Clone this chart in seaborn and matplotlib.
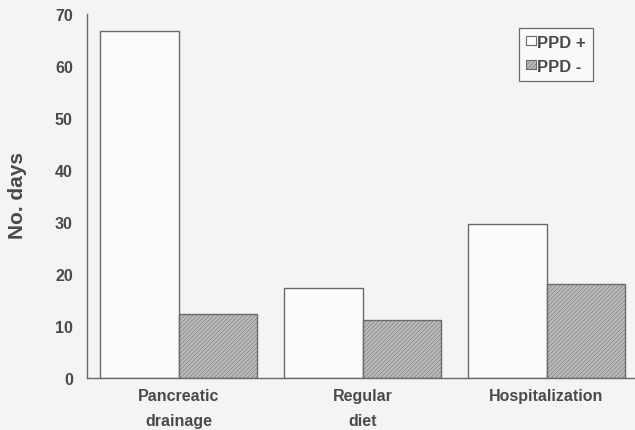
import matplotlib
matplotlib.use("Agg")
import matplotlib.pyplot as plt
from matplotlib.patches import Patch
import seaborn as sns
import pandas as pd

# Median number of days by outcome and postoperative pancreatic drainage group
categories = ["Pancreatic\ndrainage", "Regular\ndiet", "Hospitalization"]
groups = ["PPD +", "PPD -"]
ppd_pos = [66.7, 17.3, 29.6]
ppd_neg = [12.3, 11.2, 18.1]
y_ticks = [0, 10, 20, 30, 40, 50, 60, 70]

df = pd.DataFrame({
    "category": categories * 2,
    "group": [groups[0]] * 3 + [groups[1]] * 3,
    "days": ppd_pos + ppd_neg,
})

sns.set_style("white")
plt.rcParams["font.family"] = ["Liberation Sans", "DejaVu Sans"]
plt.rcParams["hatch.linewidth"] = 0.35

text_color = "#4a4a4a"
line_color = "#6a6a6a"
bg = "#f4f4f2"
fills = {"PPD +": "#fbfbfb", "PPD -": "#bbbbbb"}
hatch = "////////"

fig = plt.figure(figsize=(6.35, 4.31), dpi=100, facecolor=bg)
ax = fig.add_axes([0.1365, 0.1206, 0.869, 0.8445])
ax.set_facecolor(bg)

sns.barplot(data=df, x="category", y="days", hue="group", order=categories,
            hue_order=groups, palette=fills, width=0.85, gap=0,
            edgecolor=line_color, linewidth=1.0, saturation=1,
            errorbar=None, legend=False, ax=ax)

for bar in ax.containers[1]:
    bar.set_hatch(hatch)

ax.set_xlim(-0.5, 2.5)
ax.set_ylim(0, 70)
ax.set_yticks(y_ticks)
ax.set_yticklabels([str(t) for t in y_ticks])

for side in ("top", "right"):
    ax.spines[side].set_visible(False)
for side in ("left", "bottom"):
    ax.spines[side].set_color(line_color)
    ax.spines[side].set_linewidth(1.0)

ax.tick_params(axis="y", length=0, pad=10, labelsize=11.5, labelcolor=text_color)
ax.tick_params(axis="x", length=0, pad=7, labelsize=11.5, labelcolor=text_color)
for lbl in ax.get_yticklabels() + ax.get_xticklabels():
    lbl.set_fontweight("bold")
for lbl in ax.get_xticklabels():
    lbl.set_linespacing(1.85)

ax.set_xlabel("")
ax.set_ylabel("No. days", fontsize=15, fontweight="bold", color=text_color)
ax.yaxis.set_label_coords(-0.108, 0.503)

handles = [Patch(facecolor=fills[g], edgecolor=line_color, linewidth=0.8,
                 hatch=(hatch if g == "PPD -" else None)) for g in groups]
leg = ax.legend(handles=handles, labels=groups, loc="upper left",
                bbox_to_anchor=(519 / 635, 1 - 29 / 431),
                bbox_transform=fig.transFigure, borderaxespad=0,
                prop={"weight": "bold", "size": 12},
                handlelength=0.6, handleheight=0.45, handletextpad=0.1,
                labelspacing=0.55, borderpad=0.4, fancybox=False,
                framealpha=1, facecolor="#fafafa", edgecolor=line_color)
leg.get_frame().set_linewidth(0.9)
for t in leg.get_texts():
    t.set_color(text_color)

fig.savefig("out.png", dpi=100, facecolor=bg)
